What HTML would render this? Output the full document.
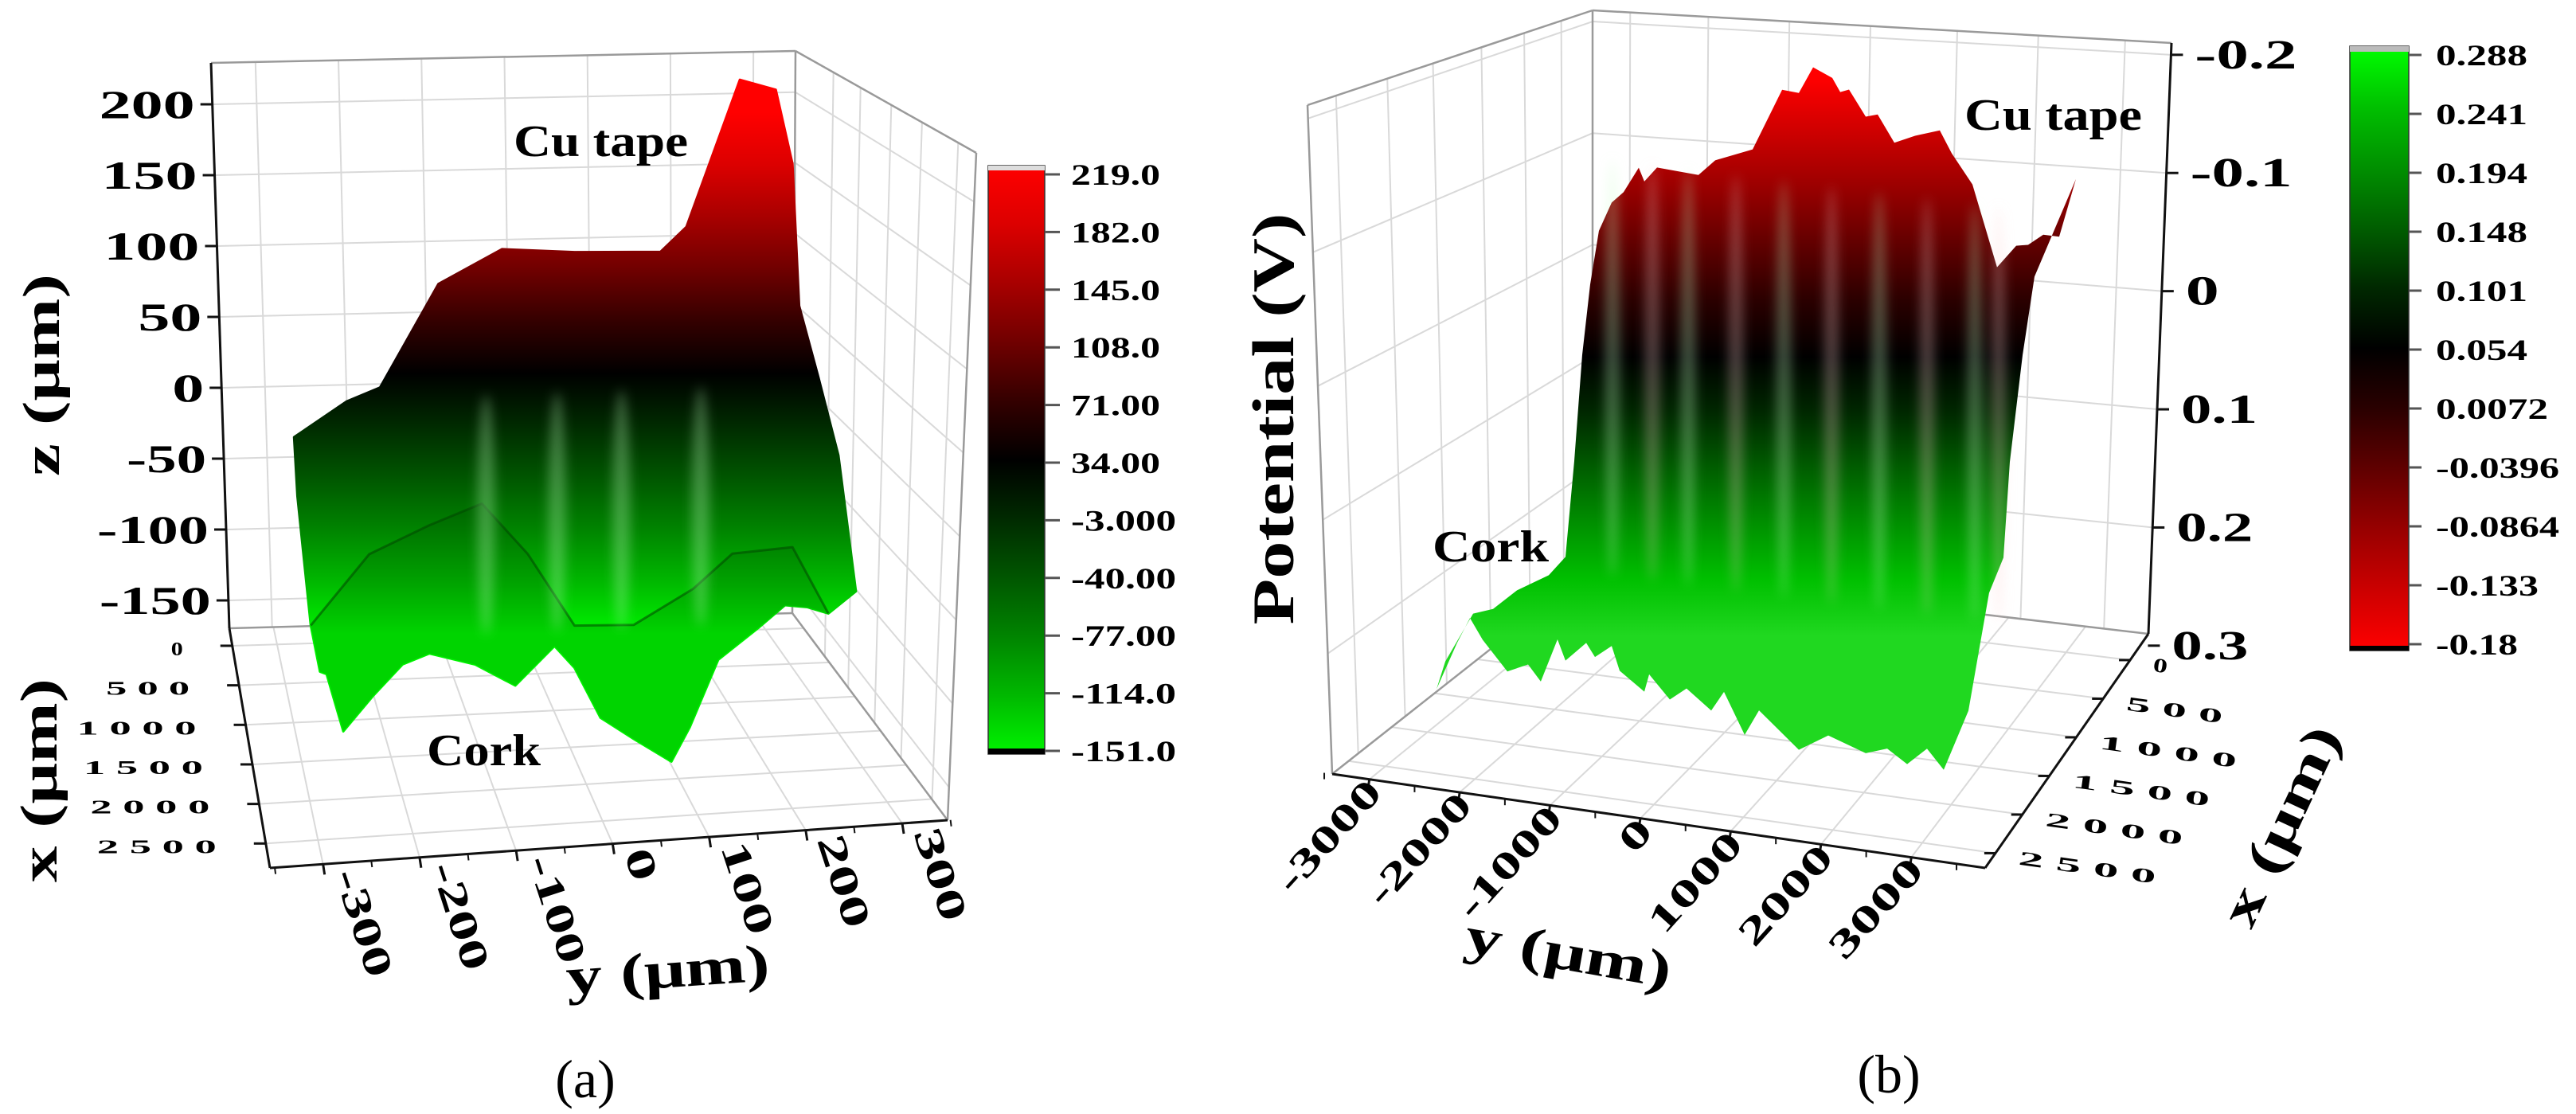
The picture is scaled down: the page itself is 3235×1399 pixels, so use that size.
<!DOCTYPE html>
<html><head><meta charset="utf-8">
<style>
html,body{margin:0;padding:0;background:#fff;width:3235px;height:1399px;overflow:hidden}
svg{display:block;font-family:"Liberation Serif","DejaVu Serif",serif}
</style></head>
<body>
<svg id="fig" width="3235" height="1399" viewBox="0 0 3235 1399" xmlns="http://www.w3.org/2000/svg">
<defs>
<filter id="blurS" x="-200%" y="-20%" width="500%" height="140%"><feGaussianBlur stdDeviation="7"/></filter>
</defs>
<rect x="0" y="0" width="3235" height="1399" fill="#fff"/>
<g id="panelA"></g>
<g id="panelB"></g>
</svg>
<script>
// ---------- Panel (a) data ----------
const aZTicks=[200,150,100,50,0,-50,-100,-150];
const aXTicks=[0,500,1000,1500,2000,2500];
const aYTicks=[-300,-200,-100,0,100,200,300];
const aCbValues=[219,182,145,108,71,34,-3,-40,-77,-114,-151];
const aCbLabels=['219.0','182.0','145.0','108.0','71.00','34.00','-3.000','-40.00','-77.00','-114.0','-151.0'];
const aCbColors=['#ff0000','#dc0000','#a80000','#700000','#340000','#000000','#002a00','#005600','#008400','#00b800','#00f400'];
const aSurfY=[-287,-224,-184,-114,-38,49,152,183,247,290,310,318,341,365,386,353,328,301,270,221,187,165,120,80,49,25,-22,-70,-125,-157,-193,-228,-248,-256,-267,-283];
const aSurfZ=[-5,19,28,100,123,119,117,134,237,229,176,75,24,-32,-129,-144,-139,-137,-152,-174,-221,-245,-228,-212,-176,-160,-187,-171,-162,-169,-191,-215,-174,-172,-139,-47];
const aFoldY=[-267,-197,-125,-62,-7,49,120,191,238,310,353];
const aFoldZ=[-139,-90,-71,-57,-94,-146,-147,-123,-99,-96,-144];
const aStreakY=[-57,28,105,200];

// ---------- Panel (b) data ----------
const bPTicks=[-0.2,-0.1,0,0.1,0.2,0.3];
const bPLabels=['-0.2','-0.1','0','0.1','0.2','0.3'];
const bXTicks=[0,500,1000,1500,2000,2500];
const bYTicks=[-3000,-2000,-1000,0,1000,2000,3000];
const bCbValues=[0.288,0.241,0.194,0.148,0.101,0.054,0.0072,-0.0396,-0.0864,-0.133,-0.18];
const bCbLabels=['0.288','0.241','0.194','0.148','0.101','0.054','0.0072','-0.0396','-0.0864','-0.133','-0.18'];
const bCbColors=['#20d820','#00c000','#009000','#005e00','#002800','#000000','#2a0000','#600000','#980000','#cc0000','#ff0000'];
const bSurfY=[-2837,-2675,-2524,-2332,-2261,-2100,-1575,-1363,-888,-514,-302,-121,122,223,334,546,697,909,1172,1485,1636,1899,2211,2454,2605,2797,2999,3211,2686,2535,2373,2292,2110,1848,1535,1323,1071,818,546,71,-302,-807,-989,-1251,-1413,-1726,-1938,-2200,-2261,-2574,-2675,-2887,-2998,-3261,-3362,-3574,-3735,-3998,-4311,-4472,-4634,-4896,-4785,-4432,-4179,-3876,-3473,-3261,-3150,-3049,-2948];
const bSurfZ=[-0.029,-0.054,-0.064,-0.086,-0.075,-0.088,-0.086,-0.100,-0.113,-0.166,-0.165,-0.188,-0.181,-0.170,-0.173,-0.152,-0.155,-0.133,-0.141,-0.148,-0.130,-0.106,-0.039,-0.059,-0.061,-0.071,-0.071,-0.121,-0.035,0.032,0.123,0.204,0.235,0.336,0.388,0.372,0.387,0.376,0.382,0.371,0.386,0.357,0.379,0.345,0.362,0.346,0.357,0.338,0.353,0.338,0.318,0.329,0.318,0.335,0.318,0.355,0.342,0.350,0.326,0.309,0.331,0.372,0.348,0.305,0.299,0.281,0.265,0.248,0.167,0.077,0.017];
const bStreakY=[-2665,-2160,-1706,-1100,-494,112,717,1323,1929,2232];

const NS='http://www.w3.org/2000/svg';
function mk(tag,parent,attrs){const e=document.createElementNS(NS,tag);for(const k in attrs){e.setAttribute(k,attrs[k]);}parent.appendChild(e);return e;}
function Q(q,s,t){const a=q[0],b=q[1],c=q[2],d=q[3];
  return [(1-s)*(1-t)*a[0]+s*(1-t)*b[0]+s*t*c[0]+(1-s)*t*d[0],(1-s)*(1-t)*a[1]+s*(1-t)*b[1]+s*t*c[1]+(1-s)*t*d[1]];}
function lenOf(s,dg,dot,minus){let L=0;for(const ch of s){if(ch==='-')L+=minus;else if(ch==='.')L+=dot;else L+=dg;}return L;}
const defs=document.querySelector('defs');

// ================= PANEL A =================
const gA=document.getElementById('panelA');
const backA=[[265,79],[999,64],[995,770],[288,789]];
const rightA=[[999,64],[1226,192],[1190,1030],[995,770]];
const floorA=[[288,789],[995,770],[1190,1030],[339,1090]];
function aZY(v){return 487-v*1.78;}
function aZT(v){return (aZY(v)-79)/(789-79);}
function aYU(v){return (v+355)/702;}
function aXF(v){return 0.073+v/500*0.165;}
function aProj(y,z){const u=(y+355)/702;return [298+736*u,849-27*u-(z+173)*1.77];}

const gridA=mk('g',gA,{stroke:'#d9d9d9','stroke-width':2,fill:'none'});


for(let k=0;k<7;k++){const s=0.076+0.142*k;const p=Q(backA,s,0),q=Q(backA,s,1);mk('line',gridA,{x1:p[0],y1:p[1],x2:q[0],y2:q[1]});}
for(const s of [0.21,0.36,0.53,0.70,0.90]){const p=Q(rightA,s,0),q=Q(rightA,s,1);mk('line',gridA,{x1:p[0],y1:p[1],x2:q[0],y2:q[1]});}
for(const v of aZTicks){const t=aZT(v);let p=Q(backA,0,t),q=Q(backA,1,t);mk('line',gridA,{x1:p[0],y1:p[1],x2:q[0],y2:q[1]});
  p=Q(rightA,0,t);q=Q(rightA,1,t);mk('line',gridA,{x1:p[0],y1:p[1],x2:q[0],y2:q[1]});}
for(const v of aYTicks){const s=aYU(v);const p=Q(floorA,s,0),q=Q(floorA,s,1);mk('line',gridA,{x1:p[0],y1:p[1],x2:q[0],y2:q[1]});}
for(const v of aXTicks){const t=aXF(v);const p=Q(floorA,0,t),q=Q(floorA,1,t);mk('line',gridA,{x1:p[0],y1:p[1],x2:q[0],y2:q[1]});}

const frameA=mk('g',gA,{stroke:'#9a9a9a','stroke-width':2.5,fill:'none'});


[[[265,79],[999,64]],[[999,64],[1226,192]],[[1226,192],[1190,1030]],[[999,64],[995,770]],[[995,770],[1190,1030]],[[288,789],[995,770]]].forEach(l=>mk('line',frameA,{x1:l[0][0],y1:l[0][1],x2:l[1][0],y2:l[1][1]}));

const gradA=mk('linearGradient',defs,{id:'gradA',gradientUnits:'userSpaceOnUse',x1:0,y1:0,x2:0,y2:1399});
aCbValues.forEach((v,i)=>{const y=aProj(0,v)[1];mk('stop',gradA,{offset:(y/1399).toFixed(4),'stop-color':aCbColors[i]});});
const surfA=mk('polygon',gA,{points:aSurfY.map((y,i)=>aProj(y,aSurfZ[i]).join(',')).join(' '),fill:'url(#gradA)',stroke:'url(#gradA)','stroke-width':3,'stroke-linejoin':'round'});


const lobePts=aFoldY.map((y,i)=>aProj(y,aFoldZ[i]));
for(let i=15;i<=34;i++){lobePts.push(aProj(aSurfY[i],aSurfZ[i]));}
const lobeA=mk('polygon',gA,{points:lobePts.map(p=>p.join(',')).join(' '),fill:'rgba(0,50,0,0.16)'});


const foldA=mk('polyline',gA,{points:aFoldY.map((y,i)=>aProj(y,aFoldZ[i]).join(',')).join(' '),fill:'none',stroke:'rgba(0,70,0,0.55)','stroke-width':3,'stroke-linejoin':'round'});


aStreakY.forEach(y=>{const top=aProj(y,20),bot=aProj(y,-150);
  const st=mk('ellipse',gA,{cx:top[0],cy:(top[1]+bot[1])/2,rx:11,ry:(bot[1]-top[1])/2,fill:'rgba(190,255,190,0.33)',filter:'url(#blurS)'});
  
  });

const axA=mk('g',gA,{stroke:'#111','stroke-width':3,fill:'none'});


[[[265,79],[288,789]],[[288,789],[339,1090]],[[339,1090],[1190,1030]]].forEach(l=>mk('line',axA,{x1:l[0][0],y1:l[0][1],x2:l[1][0],y2:l[1][1]}));

aZTicks.forEach(v=>{const y=aZY(v);const ex=265+(y-79)*0.0324;
  mk('line',axA,{x1:ex-15,y1:y,x2:ex,y2:y});
  const s=String(v);
  const t=mk('text',gA,{x:ex-22,y:y+17,'text-anchor':'end','font-size':50,'font-weight':'bold',textLength:lenOf(s,40,14,20),lengthAdjust:'spacingAndGlyphs'});
  t.textContent=s;
  
  });
aXTicks.forEach(v=>{const f=aXF(v);const x=288+51*f,y=789+301*f;
  mk('line',axA,{x1:x-15,y1:y,x2:x,y2:y});
  const s=String(v).split('').join(' ');
  const n=String(v).length;
  const t=mk('text',gA,{x:x-62,y:y+12,'text-anchor':'end','font-size':24,'font-weight':'bold',textLength:(n-1)*45+15,lengthAdjust:'spacingAndGlyphs'});
  t.textContent=s;
  
  });
aYTicks.forEach(v=>{const u=aYU(v);const x=339+851*u,y=1090-60*u;
  mk('line',axA,{x1:x,y1:y,x2:x+2,y2:y+13});
  const s=String(v);
  const t=mk('text',gA,{x:0,y:0,'text-anchor':'start','font-size':50,'font-weight':'bold',textLength:lenOf(s,40,14,20),lengthAdjust:'spacingAndGlyphs',transform:`translate(${x+14},${y+12}) rotate(72)`});
  t.textContent=s;
  
  });
for(let v=-350;v<=350;v+=50){if(v%100===0)continue;const u=aYU(v);const x=339+851*u,y=1090-60*u;mk('line',axA,{x1:x,y1:y,x2:x+1,y2:y+8,'stroke-width':2});}

const cbgA=mk('linearGradient',defs,{id:'cbA',x1:0,y1:0,x2:0,y2:1});
aCbColors.forEach((c,i)=>mk('stop',cbgA,{offset:i/(aCbColors.length-1),'stop-color':c}));
const cbA=mk('rect',gA,{x:1241,y:208,width:71,height:739,fill:'url(#cbA)',stroke:'#333','stroke-width':1.5});


mk('rect',gA,{x:1241,y:208,width:71,height:6,fill:'#ddd'});
mk('rect',gA,{x:1241,y:940,width:71,height:7,fill:'#000'});
aCbLabels.forEach((s,i)=>{const y=219+i*(943-219)/(aCbLabels.length-1);
  mk('line',gA,{x1:1312,y1:y,x2:1331,y2:y,stroke:'#555','stroke-width':3});
  const t=mk('text',gA,{x:1345,y:y+13,'font-size':37,'font-weight':'bold',textLength:lenOf(s,25,12,20),lengthAdjust:'spacingAndGlyphs'});
  t.textContent=s;
  
  });

// ================= PANEL B =================
const gB=document.getElementById('panelB');
const leftB=[[1642,132],[2000,13],[2000,714],[1673,972]];
const backB=[[2000,13],[2727,54],[2698,796],[2000,714]];
const floorB=[[2000,714],[2698,796],[2493,1090],[1673,972]];
function bPT(v){return 0.02+(v+0.2)*2;}
function bYU(v){return (v+3412)/7229;}
function bXF(v){return 0.112+v/500*0.165;}
function bProj(y,z){const u=(y+3412)/7229;return [1951+716*u,753+87*u-(0.285-z)*1497];}

const gridB=mk('g',gB,{stroke:'#d9d9d9','stroke-width':2,fill:'none'});


for(const s of [0.10,0.28,0.44,0.61,0.76,0.89]){const p=Q(leftB,s,0),q=Q(leftB,s,1);mk('line',gridB,{x1:p[0],y1:p[1],x2:q[0],y2:q[1]});}
for(const s of [0.065,0.20,0.34,0.48,0.63,0.77,0.92]){const p=Q(backB,s,0),q=Q(backB,s,1);mk('line',gridB,{x1:p[0],y1:p[1],x2:q[0],y2:q[1]});}
for(const v of bPTicks){const t=bPT(v);if(t>1)continue;let p=Q(leftB,0,t),q=Q(leftB,1,t);mk('line',gridB,{x1:p[0],y1:p[1],x2:q[0],y2:q[1]});
  p=Q(backB,0,t);q=Q(backB,1,t);mk('line',gridB,{x1:p[0],y1:p[1],x2:q[0],y2:q[1]});}
for(const v of bYTicks){const s=bYU(v);const p=Q(floorB,s,0),q=Q(floorB,s,1);mk('line',gridB,{x1:p[0],y1:p[1],x2:q[0],y2:q[1]});}
for(const v of bXTicks){const t=bXF(v);const p=Q(floorB,0,t),q=Q(floorB,1,t);mk('line',gridB,{x1:p[0],y1:p[1],x2:q[0],y2:q[1]});}

const frameB=mk('g',gB,{stroke:'#9a9a9a','stroke-width':2.5,fill:'none'});


[[[1642,132],[2000,13]],[[2000,13],[2727,54]],[[1642,132],[1673,972]],[[2000,13],[2000,714]],[[2000,714],[2698,796]],[[1673,972],[2000,714]]].forEach(l=>mk('line',frameB,{x1:l[0][0],y1:l[0][1],x2:l[1][0],y2:l[1][1]}));

const gradB=mk('linearGradient',defs,{id:'gradB',gradientUnits:'userSpaceOnUse',x1:0,y1:0,x2:0,y2:1399});
const bIdx=bCbValues.map((v,i)=>i).reverse();
bIdx.forEach(i=>{const y=bProj(0,bCbValues[i])[1];mk('stop',gradB,{offset:(Math.max(0,y)/1399).toFixed(4),'stop-color':bCbColors[i]});});
const surfB=mk('polygon',gB,{points:bSurfY.map((y,i)=>bProj(y,bSurfZ[i]).join(',')).join(' '),fill:'url(#gradB)','stroke-linejoin':'round'});


bStreakY.forEach((y,k)=>{const top=bProj(y,-0.09),bot=bProj(y,0.26);
  const st=mk('ellipse',gB,{cx:top[0],cy:(top[1]+bot[1])/2,rx:9,ry:(bot[1]-top[1])/2,fill:k%2?'rgba(255,210,210,0.30)':'rgba(200,255,200,0.32)',filter:'url(#blurS)'});
  
  });

const axB=mk('g',gB,{stroke:'#111','stroke-width':3,fill:'none'});


[[[2727,54],[2698,796]],[[1673,972],[2493,1090]],[[2698,796],[2493,1090]]].forEach(l=>mk('line',axB,{x1:l[0][0],y1:l[0][1],x2:l[1][0],y2:l[1][1]}));

bPTicks.forEach((v,i)=>{const t=bPT(v);const y=54+742*t,x=2727-29*t;
  mk('line',axB,{x1:x,y1:y,x2:x+15,y2:y});
  const s=bPLabels[i];
  const tx=mk('text',gB,{x:x+30,y:y+17,'font-size':52,'font-weight':'bold',textLength:lenOf(s,42,12,32),lengthAdjust:'spacingAndGlyphs'});
  tx.textContent=s;
  
  });
bYTicks.forEach(v=>{const u=bYU(v);const x=1673+820*u,y=972+118*u;
  mk('line',axB,{x1:x,y1:y,x2:x-2,y2:y+13});
  const s=String(v);
  const tx=mk('text',gB,{x:0,y:0,'text-anchor':'end','font-size':48,'font-weight':'bold',textLength:lenOf(s,38,12,20),lengthAdjust:'spacingAndGlyphs',transform:`translate(${x+18},${y+18}) rotate(-48)`});
  tx.textContent=s;
  
  });
for(let v=-3500;v<=3500;v+=500){if(v%1000===0)continue;const u=bYU(v);const x=1673+820*u,y=972+118*u;mk('line',axB,{x1:x,y1:y,x2:x,y2:y+8,'stroke-width':2});}
bXTicks.forEach(v=>{const f=bXF(v);const x=2698-205*f,y=796+294*f;
  mk('line',axB,{x1:x-14,y1:y,x2:x,y2:y});
  const n=String(v).length;
  const s=String(v).split('').join(' ');
  const tx=mk('text',gB,{x:0,y:0,'font-size':25,'font-weight':'bold',textLength:(n-1)*52+18,lengthAdjust:'spacingAndGlyphs',transform:`translate(${x+28},${y+14}) rotate(8)`});
  tx.textContent=s;
  
  });

const cbgB=mk('linearGradient',defs,{id:'cbB',x1:0,y1:0,x2:0,y2:1});
bCbColors.forEach((c,i)=>mk('stop',cbgB,{offset:i/(bCbColors.length-1),'stop-color':i===0?'#00ff00':c}));
const cbB=mk('rect',gB,{x:2951,y:58,width:74,height:759,fill:'url(#cbB)',stroke:'#333','stroke-width':1.5});


mk('rect',gB,{x:2951,y:58,width:74,height:7,fill:'#bbb'});
mk('rect',gB,{x:2951,y:811,width:74,height:6,fill:'#000'});
bCbLabels.forEach((s,i)=>{const y=69+i*(809-69)/(bCbLabels.length-1);
  mk('line',gB,{x1:3025,y1:y,x2:3041,y2:y,stroke:'#555','stroke-width':3});
  const t=mk('text',gB,{x:3059,y:y+13,'font-size':37,'font-weight':'bold',textLength:lenOf(s,26,11,14),lengthAdjust:'spacingAndGlyphs'});
  t.textContent=s;
  
  });
</script>
<div style="position:absolute;left:0;top:0;width:3235px;height:1399px;pointer-events:none">
<svg width="3235" height="1399" viewBox="0 0 3235 1399" style="position:absolute;left:0;top:0;font-family:'Liberation Serif','DejaVu Serif',serif;font-weight:bold">
<text transform="translate(74,471) rotate(-90)" text-anchor="middle" font-size="66" textLength="254" lengthAdjust="spacingAndGlyphs">z (μm)</text>
<text transform="translate(71,980) rotate(-90)" text-anchor="middle" font-size="66" textLength="256" lengthAdjust="spacingAndGlyphs">x (μm)</text>
<text transform="translate(840,1240) rotate(-4)" text-anchor="middle" font-size="66" textLength="256" lengthAdjust="spacingAndGlyphs">y (μm)</text>
<text x="645" y="196" font-size="56" textLength="219" lengthAdjust="spacingAndGlyphs">Cu tape</text>
<text x="536" y="961" font-size="56" textLength="143" lengthAdjust="spacingAndGlyphs">Cork</text>
<text x="735" y="1378" text-anchor="middle" font-size="68" font-weight="normal">(a)</text>
<text transform="translate(1624,526) rotate(-90)" text-anchor="middle" font-size="74" textLength="517" lengthAdjust="spacingAndGlyphs">Potential (V)</text>
<text transform="translate(1966,1218) rotate(10)" text-anchor="middle" font-size="66" textLength="262" lengthAdjust="spacingAndGlyphs">y (μm)</text>
<text transform="translate(2884,1046) rotate(-65)" text-anchor="middle" font-size="66" textLength="270" lengthAdjust="spacingAndGlyphs">x (μm)</text>
<text x="2467" y="163" font-size="56" textLength="223" lengthAdjust="spacingAndGlyphs">Cu tape</text>
<text x="1799" y="705" font-size="56" textLength="146" lengthAdjust="spacingAndGlyphs">Cork</text>
<text x="2372" y="1372" text-anchor="middle" font-size="68" font-weight="normal">(b)</text>
</svg>
</div>
</body></html>
